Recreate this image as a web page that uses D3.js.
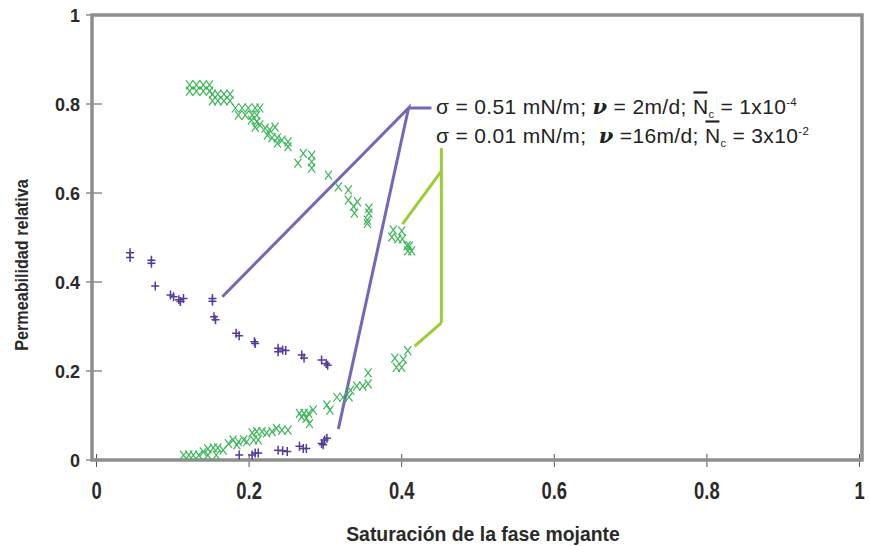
<!DOCTYPE html>
<html>
<head>
<meta charset="utf-8">
<script src="https://cdn.jsdelivr.net/npm/d3@7"></script>
<style>
body { margin: 0; background: #fff; }
svg { display: block; font-family: "Liberation Sans", Arial, sans-serif; }
</style>
</head>
<body>
<div id="chart"></div>
<script>
// curvas de permeabilidad relativa

var xTicks = [0, 0.2, 0.4, 0.6, 0.8, 1]
var yTicks = [0, 0.2, 0.4, 0.6, 0.8, 1]

// sigma = 0.51 (morado), fase no mojante y mojante
var purpleUpper = [[0.044,0.466],[0.044,0.455],[0.072,0.449],[0.072,0.442],[0.077,0.391],
  [0.097,0.371],[0.101,0.367],[0.108,0.360],[0.114,0.363],[0.110,0.356],[0.152,0.363],
  [0.152,0.357],[0.154,0.322],[0.156,0.315],[0.183,0.285],[0.187,0.279],[0.207,0.266],
  [0.208,0.262],[0.238,0.251],[0.238,0.243],[0.244,0.247],[0.248,0.246],[0.269,0.236],
  [0.272,0.229],[0.295,0.225],[0.301,0.217],[0.303,0.213]]

var purpleLower = [[0.187,0.011],[0.204,0.011],[0.208,0.016],[0.212,0.016],[0.238,0.022],
  [0.244,0.021],[0.250,0.019],[0.266,0.031],[0.271,0.026],[0.275,0.026],[0.295,0.037],
  [0.297,0.034],[0.299,0.045],[0.302,0.049]]

// sigma = 0.01 (verde)
var greenUpper = [[0.122,0.843],[0.131,0.843],[0.140,0.843],[0.148,0.843],[0.122,0.829],
  [0.131,0.829],[0.140,0.829],[0.148,0.829],[0.152,0.822],[0.159,0.822],[0.167,0.822],
  [0.175,0.822],[0.152,0.807],[0.159,0.807],[0.167,0.807],[0.175,0.807],[0.182,0.791],
  [0.191,0.791],[0.199,0.791],[0.208,0.791],[0.214,0.791],[0.186,0.775],[0.195,0.775],
  [0.204,0.775],[0.210,0.775],[0.203,0.764],[0.210,0.760],[0.214,0.753],[0.208,0.748],
  [0.221,0.746],[0.227,0.742],[0.234,0.748],[0.224,0.730],[0.230,0.724],[0.237,0.724],
  [0.237,0.712],[0.243,0.719],[0.251,0.715],[0.251,0.704],[0.271,0.689],[0.282,0.685],
  [0.264,0.667],[0.282,0.670],[0.282,0.656],[0.304,0.640],[0.317,0.614],[0.330,0.607],
  [0.330,0.584],[0.342,0.580],[0.337,0.570],[0.338,0.555],[0.357,0.566],[0.357,0.555],
  [0.355,0.539],[0.355,0.532],[0.389,0.517],[0.400,0.515],[0.387,0.501],[0.395,0.497],
  [0.401,0.497],[0.407,0.481],[0.410,0.481],[0.408,0.470],[0.413,0.470]]

var greenLower = [[0.114,0.011],[0.121,0.011],[0.127,0.011],[0.134,0.011],[0.140,0.018],
  [0.146,0.025],[0.153,0.027],[0.159,0.027],[0.166,0.022],[0.146,0.011],[0.157,0.011],
  [0.173,0.037],[0.179,0.045],[0.186,0.041],[0.193,0.045],[0.197,0.041],[0.184,0.034],
  [0.204,0.061],[0.210,0.064],[0.217,0.064],[0.223,0.061],[0.206,0.045],[0.212,0.045],
  [0.230,0.064],[0.236,0.071],[0.243,0.067],[0.251,0.067],[0.266,0.105],[0.272,0.105],
  [0.278,0.105],[0.284,0.112],[0.269,0.097],[0.275,0.094],[0.279,0.082],[0.302,0.124],
  [0.306,0.112],[0.315,0.141],[0.323,0.141],[0.331,0.142],[0.333,0.157],[0.341,0.166],
  [0.349,0.166],[0.356,0.171],[0.356,0.196],[0.391,0.229],[0.402,0.226],[0.408,0.246],
  [0.393,0.208],[0.400,0.208]]

// lineas que unen las curvas con su leyenda
var purpleLeader = [[[0.165,0.367],[0.409,0.791],[0.317,0.070]], [[0.409,0.791],[0.439,0.791]]]
var greenLeader = [[[0.401,0.530],[0.452,0.649]], [[0.452,0.701],[0.452,0.308]], [[0.417,0.256],[0.452,0.308]]]

var legendHead = ['σ = 0.51 mN/m; ', 'σ = 0.01 mN/m;  ']
var legendNu = [' = 2m/d; ', ' =16m/d; ']
var legendNc = [' = 1x10', ' = 3x10']
var legendExp = ['-4', '-2']

var width = 869,
    height = 546

var x = d3.scaleLinear().domain([0, 1]).range([96.5, 859.5])
var y = d3.scaleLinear().domain([0, 1]).range([460, 15])

var svg = d3.select('#chart').append('svg')
  .attr('width', width)
  .attr('height', height)

// ticks
svg.selectAll('line.ytick').data(yTicks)
  .enter().append('line')
    .attr('x1', 86).attr('x2', 102)
    .attr('y1', function(d){ return y(d) }).attr('y2', function(d){ return y(d) })
    .style('stroke', '#555').style('stroke-width', 1)

svg.selectAll('line.xtick').data(xTicks)
  .enter().append('line')
    .attr('x1', function(d){ return x(d) }).attr('x2', function(d){ return x(d) })
    .attr('y1', 454).attr('y2', 467)
    .style('stroke', '#555').style('stroke-width', 1)

// marco
svg.append('rect')
  .attr('x', 92).attr('y', 15)
  .attr('width', 770).attr('height', 445)
  .style('fill', 'none')
  .style('stroke', '#8e8e8e')
  .style('stroke-width', 3.5)

// etiquetas
svg.selectAll('text.ylab').data(yTicks)
  .enter().append('text')
    .attr('x', 80)
    .attr('y', function(d){ return y(d) + 6.5 })
    .attr('text-anchor', 'end')
    .style('font-size', '18px').style('font-weight', 'bold').style('fill', '#2a2a2a')
    .text(function(d){ return d3.format('')(d) })

svg.selectAll('text.xlab').data(xTicks)
  .enter().append('text')
    .attr('transform', function(d){ return 'translate(' + x(d) + ',499) scale(0.8,1)' })
    .attr('text-anchor', 'middle')
    .style('font-size', '23px').style('font-weight', 'bold').style('fill', '#2a2a2a')
    .text(function(d){ return d3.format('')(d) })

svg.append('text')
  .attr('transform', 'translate(483,541) scale(0.97,1)')
  .attr('text-anchor', 'middle')
  .style('font-size', '20px').style('font-weight', 'bold').style('fill', '#2a2a2a')
  .text('Saturación de la fase mojante')

svg.append('text')
  .attr('transform', 'translate(28,265) rotate(-90) scale(0.85,1)')
  .attr('text-anchor', 'middle')
  .style('font-size', '19px').style('font-weight', 'bold').style('fill', '#2a2a2a')
  .text('Permeabilidad relativa')

// lineas guia
var leaderLine = d3.line()
  .x(function(d){ return x(d[0]) })
  .y(function(d){ return y(d[1]) })

svg.selectAll('path.pleader').data(purpleLeader)
  .enter().append('path')
    .attr('d', leaderLine)
    .style('fill', 'none').style('stroke', '#7467b8').style('stroke-width', 3)

svg.selectAll('path.gleader').data(greenLeader)
  .enter().append('path')
    .attr('d', leaderLine)
    .style('fill', 'none').style('stroke', '#9ccc36').style('stroke-width', 3)

// marcadores
var crossX = 'M-3.5,-4.5L3.5,4.5M3.5,-4.5L-3.5,4.5'
var plus = 'M-4,0L4,0M0,-4.5L0,4.5'

function drawPoints(data, shape, color, width) {
  svg.append('g').selectAll('path').data(data)
    .enter().append('path')
      .attr('d', shape)
      .attr('transform', function(d){ return 'translate(' + x(d[0]) + ',' + y(d[1]) + ')' })
      .style('fill', 'none')
      .style('stroke', color)
      .style('stroke-width', width)
}

drawPoints(greenUpper, crossX, '#3bb656', 1.2)
drawPoints(greenLower, crossX, '#3bb656', 1.2)
drawPoints(purpleUpper, plus, '#553a9c', 1.5)
drawPoints(purpleLower, plus, '#553a9c', 1.5)

// leyenda
legendHead.forEach(function(h, i){
  var base = 113.5 + i * 29
  var t = svg.append('text')
    .attr('x', 436).attr('y', base)
    .style('font-size', '21px').style('fill', '#222')
    .style('letter-spacing', '0.35px')
    .style('white-space', 'pre')
  t.append('tspan').text(h)
  t.append('tspan')
    .style('font-family', '"DejaVu Serif", serif').style('font-weight', 'bold').style('font-style', 'italic')
    .text('ν')
  t.append('tspan').text(legendNu[i])
  var n = t.append('tspan').text('N')
  t.append('tspan').attr('dy', 4).style('font-size', '11px').text('c')
  t.append('tspan').attr('dy', -4).text(legendNc[i])
  t.append('tspan').attr('dy', -8).style('font-size', '11.5px').text(legendExp[i])

  var ext = n.node().getExtentOfChar(0)
  svg.append('line')
    .attr('x1', ext.x + 0.5).attr('x2', ext.x + ext.width - 1)
    .attr('y1', base - 21).attr('y2', base - 21)
    .style('stroke', '#222').style('stroke-width', 2.2)
})
</script>
</body>
</html>
